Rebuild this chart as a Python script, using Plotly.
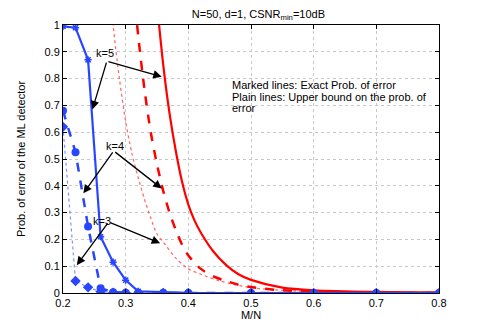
import plotly.graph_objects as go

# M/N sample points for the exact (marked) curves
mn = [0.2, 0.22, 0.24, 0.26, 0.28, 0.3, 0.32, 0.36, 0.4, 0.5, 0.6, 0.7, 0.8]
exact_k5 = [0.995, 0.99, 0.87, 0.21, 0.115, 0.048, 0.006, 0.003, 0.001, 0, 0, 0, 0]
exact_k4 = [0.68, 0.525, 0.248, 0.018, 0.003, 0.001, 0, 0, 0, 0, 0, 0, 0]
exact_k3 = [0.62, 0.045, 0.021, 0.005, 0.001, 0, 0, 0, 0, 0, 0, 0, 0]

# upper bounds (plain lines)
mn_b3 = [0.27, 0.28, 0.29, 0.3, 0.31, 0.32, 0.33, 0.34, 0.35, 0.36, 0.38, 0.4,
         0.42, 0.45, 0.5, 0.55, 0.6, 0.7, 0.8]
bound_k3 = [1.3, 1.0, 0.8, 0.64, 0.52, 0.43, 0.35, 0.28, 0.22, 0.19, 0.13, 0.09,
            0.07, 0.045, 0.02, 0.01, 0.005, 0.001, 0.0003]
mn_b4 = [0.31, 0.32, 0.33, 0.34, 0.35, 0.36, 0.37, 0.38, 0.39, 0.4, 0.42, 0.44,
         0.46, 0.48, 0.5, 0.55, 0.6, 0.7, 0.8]
bound_k4 = [1.2, 0.96, 0.76, 0.6, 0.48, 0.38, 0.3, 0.235, 0.18, 0.14, 0.09, 0.062,
            0.045, 0.031, 0.022, 0.01, 0.005, 0.001, 0.0003]
mn_b5 = [0.35, 0.36, 0.37, 0.38, 0.39, 0.4, 0.41, 0.42, 0.44, 0.46, 0.48, 0.5,
         0.55, 0.6, 0.7, 0.8]
bound_k5 = [1.08, 0.85, 0.67, 0.53, 0.415, 0.33, 0.27, 0.225, 0.155, 0.105, 0.07,
            0.049, 0.02, 0.01, 0.004, 0.002]

note_lines = ['Marked lines: Exact Prob. of error',
              'Plain lines: Upper bound on the prob. of',
              'error']

blue = '#2846ff'

fig = go.Figure()

fig.add_trace(go.Scatter(x=mn_b3, y=bound_k3, mode='lines',
                         line=dict(color='rgba(255,60,60,0.75)', width=1.3, dash='dot',
                                   shape='spline', smoothing=0.8)))
fig.add_trace(go.Scatter(x=mn_b4, y=bound_k4, mode='lines',
                         line=dict(color='red', width=2.5, dash='dash',
                                   shape='spline', smoothing=0.8)))
fig.add_trace(go.Scatter(x=mn_b5, y=bound_k5, mode='lines',
                         line=dict(color='red', width=2.2,
                                   shape='spline', smoothing=0.8)))

fig.add_trace(go.Scatter(x=mn, y=exact_k3, mode='lines+markers',
                         line=dict(color='rgba(40,70,255,0.6)', width=1.2, dash='dot'),
                         marker=dict(symbol='diamond', size=8, color=blue)))
fig.add_trace(go.Scatter(x=mn, y=exact_k4, mode='lines+markers',
                         line=dict(color=blue, width=2.5, dash='dash'),
                         marker=dict(symbol='circle', size=8, color=blue)))
fig.add_trace(go.Scatter(x=mn, y=exact_k5, mode='lines+markers',
                         line=dict(color=blue, width=2.2),
                         marker=dict(symbol='asterisk-open', size=6,
                                     line=dict(color=blue, width=1.5))))

# labels and arrows
labels = [('k=5', 0.2675, 0.895), ('k=4', 0.283, 0.547), ('k=3', 0.2615, 0.268)]
arrows = [((0.27, 0.865), (0.247, 0.685)), ((0.27, 0.865), (0.3575, 0.807)),
          ((0.281, 0.53), (0.2325, 0.372)), ((0.281, 0.53), (0.3575, 0.39)),
          ((0.273, 0.265), (0.222, 0.104)), ((0.273, 0.265), (0.355, 0.186))]
annotations = []
for txt, lx, ly in labels:
    annotations.append(dict(x=lx, y=ly, text=txt, showarrow=False,
                            font=dict(size=11, color='black')))
for (tx, ty), (hx, hy) in arrows:
    annotations.append(dict(x=hx, y=hy, ax=tx, ay=ty, axref='x', ayref='y',
                            text='', showarrow=True, arrowhead=2, arrowsize=1.3,
                            arrowwidth=1.3, arrowcolor='black'))
for i, line in enumerate(note_lines):
    annotations.append(dict(x=0.4665, y=0.776 - 0.043 * i, xanchor='left',
                            yanchor='middle', text=line, showarrow=False,
                            font=dict(size=11, color='black')))

axis_common = dict(showline=True, linecolor='black', linewidth=1, mirror='ticks',
                   ticks='inside', ticklen=4, tickcolor='black', automargin=False,
                   showgrid=True, gridcolor='#c8c8c8', griddash='dot', gridwidth=1,
                   zeroline=False, tickfont=dict(size=11, color='black'))

# the page puts the figure 8px in from the top-left corner
fig.update_layout(
    width=477, height=322,
    margin=dict(l=55, r=46, t=17, b=37),
    plot_bgcolor='white', paper_bgcolor='white',
    font=dict(family='Liberation Sans, Arial, sans-serif', size=11, color='black'),
    showlegend=False,
    title=dict(text='N=50, d=1, CSNR<sub>min</sub>=10dB', x=0.525, xanchor='center',
               y=0.982, yanchor='middle', font=dict(size=11)),
    annotations=annotations,
)
fig.update_xaxes(range=[0.2, 0.8], dtick=0.1, tick0=0.2,
                 title=dict(text='M/N', standoff=0, font=dict(size=11)), **axis_common)
fig.update_yaxes(range=[0, 1], dtick=0.1,
                 title=dict(text='Prob. of error of the ML detector', standoff=16,
                            font=dict(size=11)), **axis_common)

fig.write_html("out.html")
